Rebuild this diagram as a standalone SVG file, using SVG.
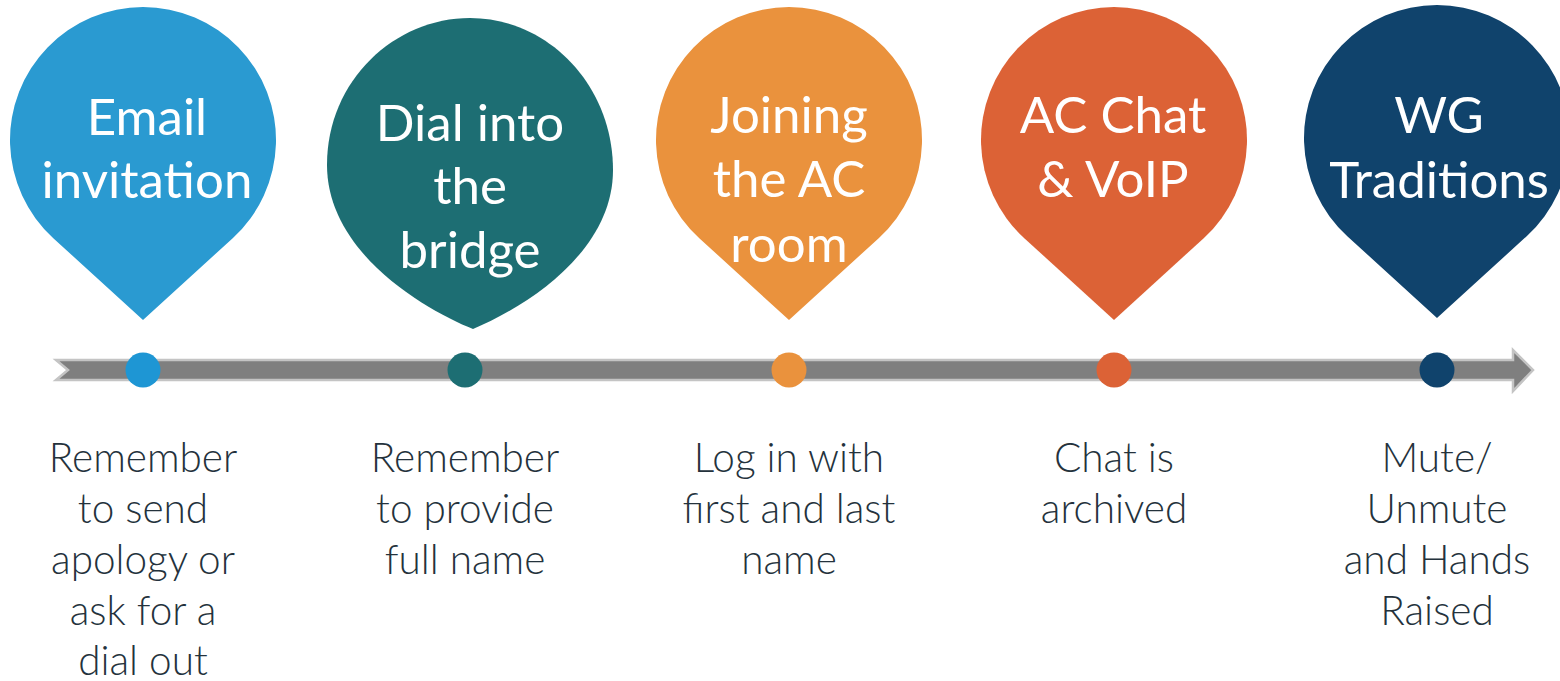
<svg xmlns="http://www.w3.org/2000/svg" width="1560" height="681" viewBox="0 0 1560 681">
<style>
.title{font-family:"Lato","Liberation Sans",sans-serif;font-size:51px;fill:#ffffff;text-anchor:middle}
.note{font-family:"Lato","Liberation Sans",sans-serif;font-weight:300;font-size:40.5px;fill:#24323c;text-anchor:middle}
</style>
<rect width="1560" height="681" fill="#ffffff"/>
<g id="timeline">
<path d="M56 360 L1513 360 L1513 350 L1533 370 L1513 391 L1513 380 L56 380 L68 370 Z" fill="#7f7f7f" stroke="#c4c4c4" stroke-width="2.5" stroke-linejoin="miter"/>
</g>
<g id="node-email">
<path d="M143 320 L53.3 238.2 A133 133 0 1 1 232.7 238.2 Z" fill="#2a9ad1"/>
<text class="title" x="147" y="135">Email</text>
<text class="title" x="147" y="198">invitation</text>
<circle cx="143" cy="370" r="17.5" fill="#1e96d4"/>
<text class="note"><tspan x="143" y="472">Remember</tspan><tspan x="143" y="523">to send</tspan><tspan x="143" y="574">apology or</tspan><tspan x="143" y="625">ask for a</tspan><tspan x="143" y="675">dial out</tspan></text>
</g>
<g id="node-dial">
<path d="M473 329 C430 312 327 255 327 165 C327 80 395 18 470 18 C548 18 613 85 613 170 C613 250 530 305 473 329 Z" fill="#1d6e73"/>
<text class="title" x="470" y="141">Dial into</text>
<text class="title" x="470" y="204">the</text>
<text class="title" x="470" y="268">bridge</text>
<circle cx="465" cy="370" r="17.5" fill="#1d6e73"/>
<text class="note"><tspan x="465" y="472">Remember</tspan><tspan x="465" y="523">to provide</tspan><tspan x="465" y="574">full name</tspan></text>
</g>
<g id="node-joining">
<path d="M789 320 L699.3 238.2 A133 133 0 1 1 878.7 238.2 Z" fill="#ea923d"/>
<text class="title" x="789" y="133">Joining</text>
<text class="title" x="789" y="197">the AC</text>
<text class="title" x="789" y="262">room</text>
<circle cx="789" cy="370" r="17.5" fill="#ea923d"/>
<text class="note"><tspan x="789" y="472">Log in with</tspan><tspan x="789" y="523">first and last</tspan><tspan x="789" y="574">name</tspan></text>
</g>
<g id="node-chat">
<path d="M1114 320 L1024.3 238.2 A133 133 0 1 1 1203.7 238.2 Z" fill="#dc6236"/>
<text class="title" x="1113" y="133">AC Chat</text>
<text class="title" x="1113" y="197">&amp; VoIP</text>
<circle cx="1114" cy="370" r="17.5" fill="#dc6236"/>
<text class="note"><tspan x="1114" y="472">Chat is</tspan><tspan x="1114" y="523">archived</tspan></text>
</g>
<g id="node-wg">
<path d="M1437 318 L1347.3 236.2 A133 133 0 1 1 1526.7 236.2 Z" fill="#10436c"/>
<text class="title" x="1439" y="133">WG</text>
<text class="title" x="1439" y="198">Traditions</text>
<circle cx="1437" cy="370" r="17.5" fill="#10436c"/>
<text class="note"><tspan x="1437" y="472">Mute/</tspan><tspan x="1437" y="523">Unmute</tspan><tspan x="1437" y="574">and Hands</tspan><tspan x="1437" y="625">Raised</tspan></text>
</g>
</svg>
